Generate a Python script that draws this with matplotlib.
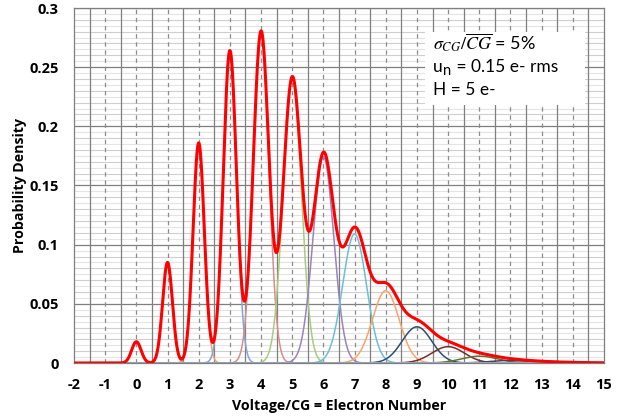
import numpy as np
import matplotlib
matplotlib.use("Agg")
import matplotlib.pyplot as plt
from matplotlib.patches import Rectangle

plt.rcParams["axes.unicode_minus"] = False

# ---- data ----
electron_number = [0, 1, 2, 3, 4, 5, 6, 7, 8, 9, 10, 11, 12, 13, 14, 15]
peak_density = [0.018, 0.085, 0.186, 0.264, 0.280, 0.240, 0.174, 0.109,
                0.061, 0.0306, 0.0138, 0.0058, 0.0022, 0.0008, 0.00026, 0.00008]
peak_sigma = [0.150, 0.158, 0.180, 0.212, 0.250, 0.292, 0.335, 0.381,
              0.427, 0.474, 0.522, 0.570, 0.618, 0.667, 0.716, 0.765]
component_colors = ["#9A82BE", "#6BC0D6", "#F8A56A", "#7FA7D8", "#D68E8C", "#ABCB7C",
                    "#9A82BE", "#6BC0D6", "#F8A56A", "#2C4D75", "#772C2A", "#5F7530",
                    "#4D3B62", "#276A7C", "#B65708", "#95B3D7"]
x_ticks = list(range(-2, 16))
y_ticks = [0, 0.05, 0.1, 0.15, 0.2, 0.25, 0.3]
y_tick_labels = ["0", "0.05", "0.1", "0.15", "0.2", "0.25", "0.3"]
line1 = r"$\sigma_{CG}/\overline{CG}$ = 5%"
line2_parts = ["u", "n", " = 0.15 e- rms"]
line3 = "H = 5 e-"

fig = plt.figure(figsize=(6.37, 4.19), dpi=100)
ax = fig.add_axes([74/637, 1-363/419, (604-74)/637, (363-8)/419])

x = np.linspace(-2, 15, 3000)
total = np.zeros_like(x)
comps = []
for k, a, s in zip(electron_number, peak_density, peak_sigma):
    g = a * np.exp(-0.5 * ((x - k) / s) ** 2)
    comps.append(g)
    total += g

for k, g, c in zip(electron_number, comps, component_colors):
    ax.plot(x, g, color=c, lw=1.1, zorder=3 + k * 0.01)
ax.plot(x, total, color="#FF0000", lw=2.2, zorder=5)

ax.set_xlim(-2, 15)
ax.set_ylim(0, 0.3)

# grids
ax.set_yticks(y_ticks)
ax.set_yticklabels(y_tick_labels)
ax.set_xticks(x_ticks)
for v in np.arange(0.005, 0.3, 0.005):
    if abs(v / 0.05 - round(v / 0.05)) < 1e-6:
        continue
    col = "#cfcfcf" if abs(v / 0.01 - round(v / 0.01)) < 1e-6 else "#e4e4e4"
    ax.axhline(v, color=col, lw=0.8, zorder=1)
for v in y_ticks[1:]:
    ax.axhline(v, color="#7f7f7f", lw=0.9, zorder=1.5)
for v in np.arange(-1.5, 15, 1.0):
    ax.axvline(v, color="#7f7f7f", lw=0.9, zorder=1.5)
for v in x_ticks[1:-1]:
    ax.axvline(v, color="#8c8c8c", lw=0.9, ls=(0, (3.5, 3)), zorder=1.5)

ax.tick_params(axis="both", length=0, labelsize=10.5)
ax.tick_params(axis="y", pad=11)
ax.tick_params(axis="x", pad=11)
for lab in ax.get_xticklabels() + ax.get_yticklabels():
    lab.set_fontweight("bold")
    lab.set_family("Open Sans")
for sp in ax.spines.values():
    sp.set_color("#7f7f7f")
    sp.set_linewidth(0.9)

ax.set_xlabel("Voltage/CG = Electron Number", fontsize=10.2, fontweight="bold",
              family="Open Sans", labelpad=5)
ax.set_ylabel("Probability Density", fontsize=10.2, fontweight="bold",
              family="Open Sans", labelpad=2)

# annotation box
ax.add_patch(Rectangle(((425-74)/530, 1-(105-8)/355), (585-425)/530, (105-32)/355,
                       transform=ax.transAxes, facecolor="white", edgecolor="none", zorder=4))

def px(xp, yp):
    return fig.transFigure.inverted().transform((xp, 419 - yp))

fs = 12.5
x0 = 433
fig.text(*px(x0, 43), line1, fontsize=fs + 0.5, family="Lato", va="center", ha="left",
         math_fontfamily="stix", zorder=6)
fig.text(*px(x0, 90), line3, fontsize=fs, family="Lato", va="center", ha="left", zorder=6)
fig.canvas.draw()
r = fig.canvas.get_renderer()
tu = fig.text(*px(x0, 67), line2_parts[0], fontsize=fs, family="Lato", va="center", ha="left", zorder=6)
w_u = tu.get_window_extent(r).width
tn = fig.text(*px(x0 + w_u + 0.5, 71), line2_parts[1], fontsize=fs * 0.85, family="Lato",
              va="center", ha="left", zorder=6)
w_n = tn.get_window_extent(r).width
fig.text(*px(x0 + w_u + w_n + 0.5, 67), line2_parts[2], fontsize=fs, family="Lato",
         va="center", ha="left", zorder=6)

fig.savefig("out.png", dpi=100)
